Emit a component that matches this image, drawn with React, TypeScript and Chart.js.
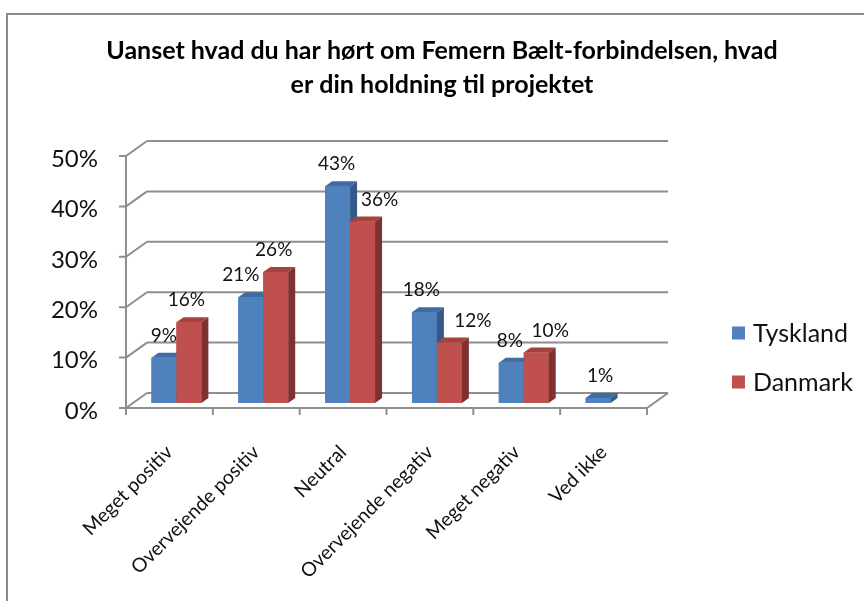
import React, { useEffect, useRef } from "react";
import { Chart, registerables } from "chart.js";

Chart.register(...registerables);

// ---- data ----
const categories = [
  "Meget positiv",
  "Overvejende positiv",
  "Neutral",
  "Overvejende negativ",
  "Meget negativ",
  "Ved ikke",
];
const tyskland: (number | null)[] = [9, 21, 43, 18, 8, 1];
const danmark: (number | null)[] = [16, 26, 36, 12, 10, null];
const seriesNames = ["Tyskland", "Danmark"];
const yTicks = [0, 10, 20, 30, 40, 50];
const titleLines = [
  "Uanset hvad du har hørt om Femern Bælt-forbindelsen, hvad",
  "er din holdning til projektet",
];

// ---- style ----
const FONT = "Lato, 'Open Sans', sans-serif";
const frontColors = ["#4F81BD", "#C0504D"];
const topColors = ["#3E6CA5", "#A5423F"];
const sideColors = ["#34598A", "#7E312F"];
const GRID = "#8E8E8E";
const TEXT = "#111111";
// 3D depth of the floor (pixels)
const DX = 21;
const DY = 15;
const FRONT = 1 / 3; // bars' front plane position in depth
const BAR_DX = DX / 3;
const BAR_DY = DY / 3;
// label nudges (x) so the data labels sit as in the reference
const labelNudge = [
  [0, -10, -1, -3, -1.5, 2],
  [-2.5, -2, 17, 23.5, 14, 0],
];

const threeD = {
  id: "threeD",
  beforeDraw(chart: any) {
    const ctx = chart.ctx;
    ctx.save();
    ctx.fillStyle = "#ffffff";
    ctx.fillRect(0, 0, chart.width, chart.height);
    // outer frame (partially visible)
    ctx.strokeStyle = "#8A8A8A";
    ctx.lineWidth = 2;
    ctx.beginPath();
    ctx.moveTo(7, chart.height);
    ctx.lineTo(7, 14);
    ctx.lineTo(chart.width, 14);
    ctx.stroke();
    // title
    ctx.fillStyle = "#000";
    ctx.font = `bold 25px ${FONT}`;
    ctx.textAlign = "center";
    ctx.textBaseline = "middle";
    titleLines.forEach((t, i) => ctx.fillText(t, 442, 51 + i * 34));
    ctx.restore();
  },
  beforeDatasetsDraw(chart: any) {
    const ctx = chart.ctx;
    const { left, right } = chart.chartArea;
    const ys = chart.scales.y;
    const xs = chart.scales.x;
    const fx = -DX * FRONT;
    const fy = DY * FRONT;
    const bx = DX * (1 - FRONT);
    const by = -DY * (1 - FRONT);
    ctx.save();
    ctx.strokeStyle = GRID;
    ctx.lineWidth = 2;
    ctx.lineCap = "butt";
    const y0 = ys.getPixelForValue(0);
    const yTop = ys.getPixelForValue(yTicks[yTicks.length - 1]);
    // back wall gridlines and side-wall diagonals, y ticks
    yTicks.forEach((v) => {
      const y = ys.getPixelForValue(v);
      ctx.beginPath();
      ctx.moveTo(left + bx, y + by);
      ctx.lineTo(right + bx, y + by);
      ctx.moveTo(left + fx, y + fy);
      ctx.lineTo(left + bx, y + by);
      ctx.moveTo(left + fx - 7, y + fy);
      ctx.lineTo(left + fx, y + fy);
      ctx.stroke();
    });
    // front vertical axis
    ctx.beginPath();
    ctx.moveTo(left + fx, yTop + fy);
    ctx.lineTo(left + fx, y0 + fy);
    // floor front edge and right diagonal
    ctx.lineTo(right + fx, y0 + fy);
    ctx.lineTo(right + bx, y0 + by);
    ctx.stroke();
    // x ticks at category boundaries
    const n = categories.length;
    ctx.beginPath();
    for (let i = 0; i <= n; i++) {
      let x: number;
      if (i === 0) x = left;
      else if (i === n) x = right;
      else x = (xs.getPixelForValue(i - 1) + xs.getPixelForValue(i)) / 2;
      ctx.moveTo(x + fx, y0 + fy);
      ctx.lineTo(x + fx, y0 + fy + 7);
    }
    ctx.stroke();
    // y labels
    ctx.fillStyle = TEXT;
    ctx.font = `24px ${FONT}`;
    ctx.textAlign = "right";
    ctx.textBaseline = "middle";
    yTicks.forEach((v) => {
      const y = ys.getPixelForValue(v);
      ctx.fillText(`${v}%`, left + fx - 28, y + fy + 3);
    });
    // category labels
    ctx.font = `19.5px ${FONT}`;
    categories.forEach((c, i) => {
      const x = xs.getPixelForValue(i) + fx;
      ctx.save();
      ctx.translate(x, y0 + fy + 41);
      ctx.rotate(-Math.PI / 4);
      ctx.textAlign = "right";
      ctx.textBaseline = "middle";
      ctx.fillText(c, 0, 0);
      ctx.restore();
    });
    ctx.restore();
  },
  afterDatasetsDraw(chart: any) {
    const ctx = chart.ctx;
    const metas = chart.data.datasets.map((_: any, j: number) => chart.getDatasetMeta(j));
    ctx.save();
    for (let i = 0; i < categories.length; i++) {
      metas.forEach((meta: any, j: number) => {
        const v = chart.data.datasets[j].data[i];
        if (v == null) return;
        const el = meta.data[i];
        const { x, y, base, width } = el.getProps(["x", "y", "base", "width"], true);
        const l = x - width / 2;
        const r = x + width / 2;
        // front face (library's own element)
        el.draw(ctx, chart.chartArea);
        // top
        ctx.fillStyle = topColors[j];
        ctx.beginPath();
        ctx.moveTo(l, y);
        ctx.lineTo(r, y);
        ctx.lineTo(r + BAR_DX, y - BAR_DY);
        ctx.lineTo(l + BAR_DX, y - BAR_DY);
        ctx.closePath();
        ctx.fill();
        // side
        ctx.fillStyle = sideColors[j];
        ctx.beginPath();
        ctx.moveTo(r, y);
        ctx.lineTo(r + BAR_DX, y - BAR_DY);
        ctx.lineTo(r + BAR_DX, base - BAR_DY);
        ctx.lineTo(r, base);
        ctx.closePath();
        ctx.fill();
      });
    }
    // data labels
    ctx.fillStyle = TEXT;
    ctx.font = `19px ${FONT}`;
    ctx.textAlign = "center";
    ctx.textBaseline = "middle";
    metas.forEach((meta: any, j: number) => {
      meta.data.forEach((el: any, i: number) => {
        const v = chart.data.datasets[j].data[i];
        if (v == null) return;
        const { x, y } = el.getProps(["x", "y"], true);
        ctx.fillText(`${v}%`, x + labelNudge[j][i], y - 22);
      });
    });
    // legend
    ctx.font = `25px ${FONT}`;
    ctx.textAlign = "left";
    chart.data.datasets.forEach((ds: any, j: number) => {
      const cy = 333 + j * 49;
      ctx.fillStyle = frontColors[j];
      ctx.fillRect(732, cy - 6.5, 13, 13);
      ctx.fillStyle = TEXT;
      ctx.fillText(ds.label, 753, cy + 1);
    });
    ctx.restore();
  },
};

export default function App() {
  const ref = useRef<HTMLCanvasElement>(null);
  useEffect(() => {
    document.body.style.margin = "0";
    const canvas = ref.current!;
    const chart = new Chart(canvas, {
      type: "bar",
      data: {
        labels: categories,
        datasets: [
          {
            label: seriesNames[0],
            data: tyskland,
            backgroundColor: frontColors[0],
            borderWidth: 0,
            categoryPercentage: 0.575,
            barPercentage: 1,
          },
          {
            label: seriesNames[1],
            data: danmark,
            backgroundColor: frontColors[1],
            borderWidth: 0,
            categoryPercentage: 0.575,
            barPercentage: 1,
          },
        ],
      } as any,
      options: {
        responsive: false,
        animation: false,
        devicePixelRatio: 1,
        layout: { padding: { left: 133, right: 210, top: 151, bottom: 198 } },
        scales: {
          x: { display: false },
          y: { display: false, min: 0, max: 50 },
        },
        plugins: {
          legend: { display: false },
          title: { display: false },
          tooltip: { enabled: false },
        },
      },
      plugins: [threeD],
    });
    return () => chart.destroy();
  }, []);
  return (
    <canvas
      ref={ref}
      width={864}
      height={601}
      style={{ display: "block", width: 864, height: 601 }}
    />
  );
}
